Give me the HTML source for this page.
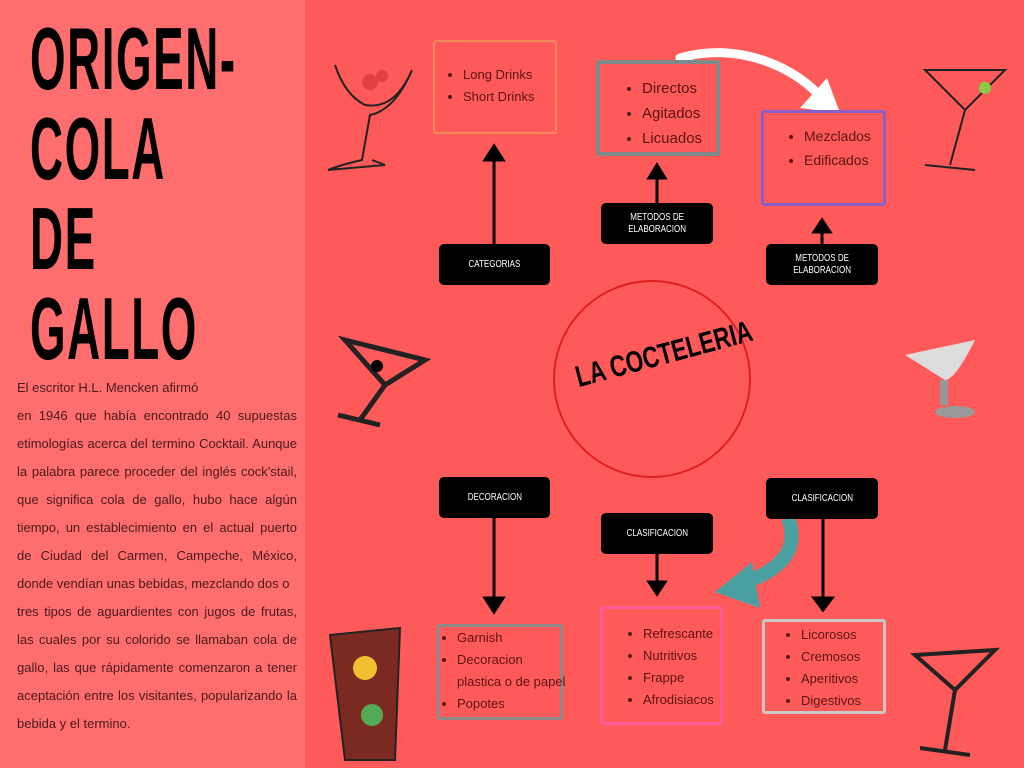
<!DOCTYPE html>
<html><head><meta charset="utf-8"><style>
body{margin:0;width:1024px;height:768px;overflow:hidden;background:#ff5a5a;font-family:"Liberation Sans",sans-serif;position:relative}
.left{position:absolute;left:0;top:0;width:305px;height:768px;background:#ff6e6e}
.t{position:absolute;left:30px;font-family:"Liberation Sans",sans-serif;font-weight:bold;font-size:88px;line-height:1;color:#000;transform:scaleX(0.52);transform-origin:left top;letter-spacing:3px}
.p{position:absolute;left:17px;top:374px;width:280px;font-size:13px;line-height:28px;color:#4a1a1a;text-align:justify}
.bk{position:absolute;background:#000;color:#fff;border-radius:5px;font-size:10px;display:flex;align-items:center;justify-content:center;text-align:center;line-height:12px}
.bk span{display:inline-block;transform:scaleX(0.8)}
.bx{position:absolute;box-sizing:border-box;border-radius:3px;color:#5a1414;font-size:13px}
.bx ul{margin:0;padding-left:28px}
.bx li{line-height:22px;white-space:nowrap}
</style></head><body>
<div class="left"></div>
<div class="t" style="top:15px">ORIGEN-</div>
<div class="t" style="top:105px">COLA</div>
<div class="t" style="top:195px">DE</div>
<div class="t" style="top:285px">GALLO</div>
<div class="p">El escritor H.L. Mencken afirmó<br>en 1946 que había encontrado 40 supuestas etimologías acerca del termino Cocktail. Aunque la palabra parece proceder del inglés cock'stail, que significa cola de gallo, hubo hace algún tiempo, un establecimiento en el actual puerto de Ciudad del Carmen, Campeche, México, donde vendían unas bebidas, mezclando dos o<br>tres tipos de aguardientes con jugos de frutas, las cuales por su colorido se llamaban cola de gallo, las que rápidamente comenzaron a tener aceptación entre los visitantes, popularizando la bebida y el termino.</div>

<svg style="position:absolute;left:0;top:0" width="1024" height="768">
<circle cx="652" cy="379" r="98" fill="none" stroke="#e02020" stroke-width="2"/>
<g stroke="#000" stroke-width="3" fill="#000">
<line x1="494" y1="244" x2="494" y2="160"/><polygon points="485,160 503,160 494,146"/>
<line x1="657" y1="203" x2="657" y2="178"/><polygon points="649,178 665,178 657,165"/>
<line x1="822" y1="244" x2="822" y2="232"/><polygon points="814,232 830,232 822,220"/>
<line x1="494" y1="518" x2="494" y2="598"/><polygon points="485,598 503,598 494,612"/>
<line x1="657" y1="554" x2="657" y2="582"/><polygon points="649,582 665,582 657,594"/>
<line x1="823" y1="519" x2="823" y2="598"/><polygon points="814,598 832,598 823,610"/>
</g>
<path d="M680 58 C740 40 800 70 823 100" stroke="#fff" stroke-width="9" fill="none" stroke-linecap="round"/>
<polygon points="800,108 840,113 827,78" fill="#fff"/>
<path d="M788 518 C800 550 780 570 745 582" stroke="#4aa0a0" stroke-width="14" fill="none"/>
<polygon points="715,592 752,562 760,608" fill="#4aa0a0"/>
<g fill="none" stroke="#222" stroke-width="2">
<path d="M335 65 Q345 95 365 105 Q395 110 412 70 Q395 110 370 115 L362 160 Q340 165 328 170 L385 165 L372 160"/>
<path d="M345 340 L425 360 L385 385 Z" stroke-width="5"/><line x1="385" y1="385" x2="360" y2="420" stroke-width="5"/><line x1="338" y1="415" x2="380" y2="425" stroke-width="5"/>
<path d="M925 70 L1005 70 L965 110 Z"/><line x1="965" y1="110" x2="950" y2="165"/><line x1="925" y1="165" x2="975" y2="170"/>
<path d="M915 655 L995 650 L955 690 Z" stroke-width="4"/><line x1="955" y1="690" x2="945" y2="750" stroke-width="4"/><line x1="920" y1="748" x2="970" y2="755" stroke-width="4"/>
</g>
<circle cx="370" cy="82" r="8" fill="#e04040"/><circle cx="382" cy="76" r="6" fill="#e04040"/>
<path d="M905 355 L975 340 Q955 380 945 380 Z" fill="#ddd"/><rect x="940" y="380" width="8" height="25" fill="#999"/><ellipse cx="955" cy="412" rx="20" ry="6" fill="#999"/>
<circle cx="985" cy="88" r="6" fill="#8c4"/><circle cx="377" cy="366" r="6" fill="#000"/>
<path d="M330 635 L400 628 L395 760 L345 760 Z" fill="#7a2a20" stroke="#222" stroke-width="2"/>
<circle cx="365" cy="668" r="12" fill="#f0c030"/><circle cx="372" cy="715" r="11" fill="#5a5"/>
</svg>
<div style="position:absolute;left:572px;top:362px;transform:rotate(-15deg) scaleX(0.75);transform-origin:left top;font-weight:bold;font-size:30px;color:#000;white-space:nowrap">LA COCTELERIA</div>

<div class="bk" style="left:439px;top:244px;width:111px;height:41px"><span>CATEGORIAS</span></div>
<div class="bk" style="left:601px;top:203px;width:112px;height:41px"><span>METODOS DE<br>ELABORACION</span></div>
<div class="bk" style="left:766px;top:244px;width:112px;height:41px"><span>METODOS DE<br>ELABORACION</span></div>
<div class="bk" style="left:439px;top:477px;width:111px;height:41px"><span>DECORACION</span></div>
<div class="bk" style="left:601px;top:513px;width:112px;height:41px"><span>CLASIFICACION</span></div>
<div class="bk" style="left:766px;top:478px;width:112px;height:41px"><span>CLASIFICACION</span></div>

<div class="bx" style="left:433px;top:40px;width:124px;height:94px;border:2px solid #f08a5a;padding-top:22px"><ul><li>Long Drinks</li><li>Short Drinks</li></ul></div>
<div class="bx" style="left:596px;top:60px;width:124px;height:96px;border:4px solid #7f8a8a;padding-top:12px;font-size:15px"><ul style="padding-left:42px"><li style="line-height:25px">Directos</li><li style="line-height:25px">Agitados</li><li style="line-height:25px">Licuados</li></ul></div>
<div class="bx" style="left:761px;top:110px;width:125px;height:96px;border:3px solid #8a60c8;padding-top:11px;font-size:14px"><ul style="padding-left:40px"><li style="line-height:24px">Mezclados</li><li style="line-height:24px">Edificados</li></ul></div>
<div class="bx" style="left:437px;top:624px;width:126px;height:96px;border:3px solid #8a8a8a;padding-top:0px"><ul style="padding-left:17px"><li>Garnish</li><li>Decoracion</li><li style="list-style:none">plastica o de papel</li><li>Popotes</li></ul></div>
<div class="bx" style="left:600px;top:606px;width:123px;height:119px;border:3px solid #ff5a9a;padding-top:14px"><ul style="padding-left:40px"><li>Refrescante</li><li>Nutritivos</li><li>Frappe</li><li>Afrodisiacos</li></ul></div>
<div class="bx" style="left:762px;top:619px;width:124px;height:95px;border:3px solid #c8c8c8;padding-top:2px"><ul style="padding-left:36px"><li>Licorosos</li><li>Cremosos</li><li>Aperitivos</li><li>Digestivos</li></ul></div>
</body></html>
